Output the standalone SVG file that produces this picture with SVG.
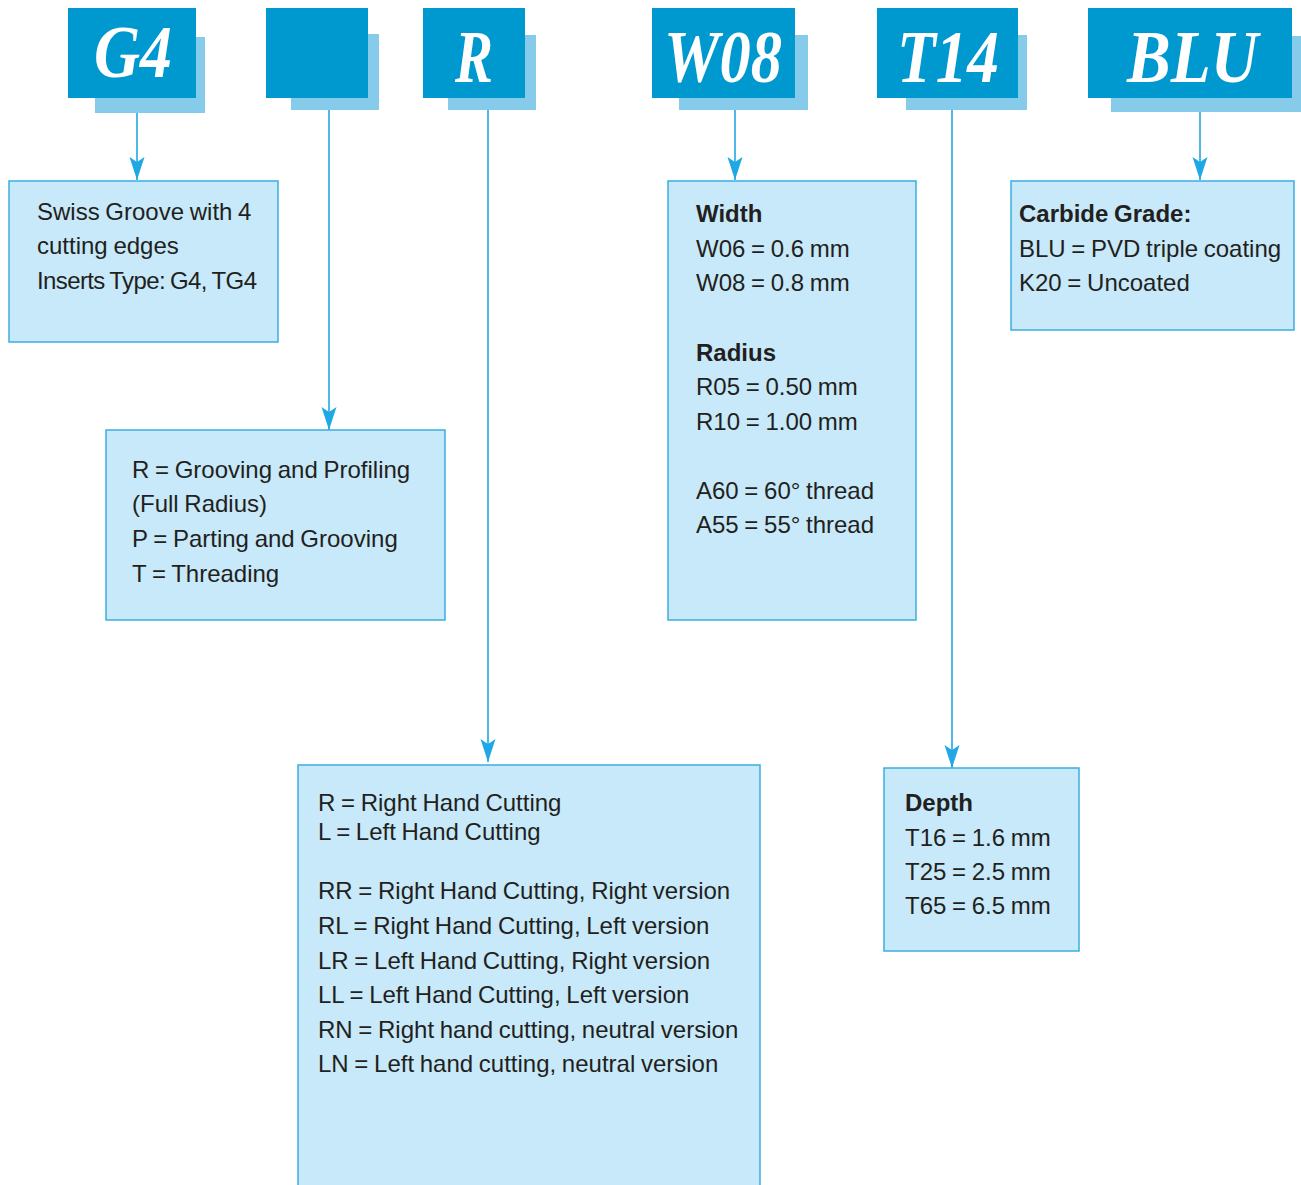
<svg xmlns="http://www.w3.org/2000/svg" width="1301" height="1185" viewBox="0 0 1301 1185">
<style>
.hdr{fill:#0099CF}
.shd{fill:#87CBEA}
.ht{font-family:"Liberation Serif",serif;font-weight:bold;font-style:italic;font-size:74px;fill:#ffffff}
.box{fill:#C7E9F9;stroke:#3BAEE0;stroke-width:1.5}
.t{font-family:"Liberation Sans",Arial,sans-serif;font-size:24px;fill:#231F20;word-spacing:-1px}
.b{font-weight:bold}
.con{stroke:#1FA8E4;stroke-width:1.6;fill:none;marker-end:url(#arr)}
</style>
<defs>
<marker id="arr" markerUnits="userSpaceOnUse" viewBox="0 -8 23 16" markerWidth="23" markerHeight="16" refX="23" refY="0" orient="auto">
<path d="M0,-7.5 L5,0 L0,7.5 L23,0 Z" fill="#1FA8E4"/>
</marker>
</defs>
<rect width="1301" height="1185" fill="#ffffff"/>
<g id="connectors">
<line class="con" x1="137" y1="113" x2="137" y2="180"/>
<line class="con" x1="329" y1="110" x2="329" y2="430"/>
<line class="con" x1="488" y1="110" x2="488" y2="762"/>
<line class="con" x1="735" y1="110" x2="735" y2="180"/>
<line class="con" x1="952" y1="110" x2="952" y2="768"/>
<line class="con" x1="1200" y1="112" x2="1200" y2="180"/>
</g>
<g id="hdr-G4">
<rect class="shd" x="95" y="37" width="110" height="76"/>
<rect class="hdr" x="68" y="8" width="128" height="90"/>
<text class="ht" x="94" y="77" textLength="78" lengthAdjust="spacingAndGlyphs">G4</text>
</g>
<g id="hdr-blank">
<rect class="shd" x="291" y="34" width="88" height="76"/>
<rect class="hdr" x="266" y="8" width="102" height="90"/>
</g>
<g id="hdr-R">
<rect class="shd" x="448" y="35" width="88" height="75"/>
<rect class="hdr" x="423" y="8" width="102" height="90"/>
<text class="ht" x="455" y="82" textLength="38" lengthAdjust="spacingAndGlyphs">R</text>
</g>
<g id="hdr-W08">
<rect class="shd" x="679" y="35" width="129" height="75"/>
<rect class="hdr" x="652" y="8" width="143" height="90"/>
<text class="ht" x="664" y="82" textLength="118" lengthAdjust="spacingAndGlyphs">W08</text>
</g>
<g id="hdr-T14">
<rect class="shd" x="906" y="35" width="121" height="75"/>
<rect class="hdr" x="877" y="8" width="141" height="90"/>
<text class="ht" x="897" y="82" textLength="102" lengthAdjust="spacingAndGlyphs">T14</text>
</g>
<g id="hdr-BLU">
<rect class="shd" x="1111" y="36" width="190" height="76"/>
<rect class="hdr" x="1088" y="8" width="204" height="90"/>
<text class="ht" x="1127" y="82" textLength="131" lengthAdjust="spacingAndGlyphs">BLU</text>
</g>
<g id="box-G4">
<rect class="box" x="9" y="181" width="269" height="161"/>
<text class="t" x="37" y="220">Swiss Groove with 4</text>
<text class="t" x="37" y="254">cutting edges</text>
<text class="t" x="37" y="289" textLength="220">Inserts Type: G4, TG4</text>
</g>
<g id="box-type">
<rect class="box" x="106" y="430" width="339" height="190"/>
<text class="t" x="132" y="478">R = Grooving and Profiling</text>
<text class="t" x="132" y="512">(Full Radius)</text>
<text class="t" x="132" y="547">P = Parting and Grooving</text>
<text class="t" x="132" y="582">T = Threading</text>
</g>
<g id="box-R">
<rect class="box" x="298" y="765" width="462" height="425"/>
<text class="t" x="318" y="811">R = Right Hand Cutting</text>
<text class="t" x="318" y="840">L = Left Hand Cutting</text>
<text class="t" x="318" y="899">RR = Right Hand Cutting, Right version</text>
<text class="t" x="318" y="934">RL = Right Hand Cutting, Left version</text>
<text class="t" x="318" y="969">LR = Left Hand Cutting, Right version</text>
<text class="t" x="318" y="1003">LL = Left Hand Cutting, Left version</text>
<text class="t" x="318" y="1038">RN = Right hand cutting, neutral version</text>
<text class="t" x="318" y="1072">LN = Left hand cutting, neutral version</text>
</g>
<g id="box-W08">
<rect class="box" x="668" y="181" width="248" height="439"/>
<text class="t b" x="696" y="222">Width</text>
<text class="t" x="696" y="257">W06 = 0.6 mm</text>
<text class="t" x="696" y="291">W08 = 0.8 mm</text>
<text class="t b" x="696" y="361">Radius</text>
<text class="t" x="696" y="395">R05 = 0.50 mm</text>
<text class="t" x="696" y="430">R10 = 1.00 mm</text>
<text class="t" x="696" y="499">A60 = 60° thread</text>
<text class="t" x="696" y="533">A55 = 55° thread</text>
</g>
<g id="box-T14">
<rect class="box" x="884" y="768" width="195" height="183"/>
<text class="t b" x="905" y="811">Depth</text>
<text class="t" x="905" y="846">T16 = 1.6 mm</text>
<text class="t" x="905" y="880">T25 = 2.5 mm</text>
<text class="t" x="905" y="914">T65 = 6.5 mm</text>
</g>
<g id="box-BLU">
<rect class="box" x="1011" y="181" width="283" height="149"/>
<text class="t b" x="1019" y="222">Carbide Grade:</text>
<text class="t" x="1019" y="257">BLU = PVD triple coating</text>
<text class="t" x="1019" y="291">K20 = Uncoated</text>
</g>
</svg>
